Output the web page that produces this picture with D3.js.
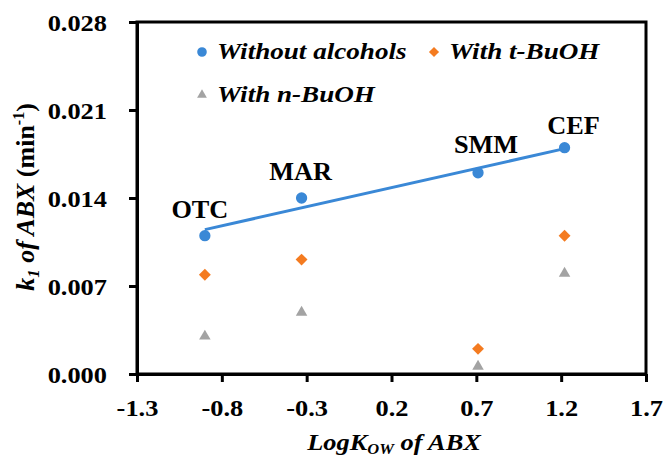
<!DOCTYPE html>
<html><head><meta charset="utf-8"><script src="https://cdn.jsdelivr.net/npm/d3@7"></script></head>
<body style="margin:0">
<svg id="chart" width="667" height="457"></svg>
<script>
// Antibiotics and their log Kow
const drugs = ["OTC", "MAR", "SMM", "CEF"];
const logKow = [-0.9, -0.33, 0.71, 1.22];

// Pseudo-first-order rate constants k1 (min^-1)
const kWithout = [0.0110, 0.0140, 0.0160, 0.0180];
const kTBuOH   = [0.0079, 0.0091, 0.0020, 0.0110];
const kNBuOH   = [0.0030, 0.0049, 0.0006, 0.0080];

// Axis ticks
const xTicks = [-1.3, -0.8, -0.3, 0.2, 0.7, 1.2, 1.7];
const yTicks = [0.000, 0.007, 0.014, 0.021, 0.028];

const colors = { without: "#3a88d6", tbuoh: "#f47b20", nbuoh: "#a3a3a3" };
const SX = 1.1; // slightly wide lettering

function serif(sel, size, italic) {
  return sel.attr("font-family", "Liberation Serif")
    .style("font-family", '"Liberation Serif"').style("font-weight", "bold")
    .style("font-size", size + "px").style("font-style", italic ? "italic" : "normal");
}

const s = d3.select("#chart");
const m = { left: 137, right: 646, top: 22, bottom: 374 };

const x = d3.scaleLinear().domain([-1.3, 1.7]).range([m.left, m.right]);
const y = d3.scaleLinear().domain([0, 0.028]).range([m.bottom, m.top]);

// Frame
s.append("rect")
  .attr("x", m.left).attr("y", m.top)
  .attr("width", m.right - m.left).attr("height", m.bottom - m.top)
  .attr("fill", "none").attr("stroke", "#000").attr("stroke-width", 3);

// Axes
const xAxis = s.append("g").attr("transform", `translate(0,${m.bottom})`)
  .call(d3.axisBottom(x).tickValues(xTicks).tickFormat(d => d3.format(".1f")(d).replace("−", "-"))
    .tickSize(8).tickSizeOuter(0));
const yAxis = s.append("g").attr("transform", `translate(${m.left},0)`)
  .call(d3.axisLeft(y).tickValues(yTicks).tickFormat(d3.format(".3f")).tickSize(8).tickSizeOuter(0));

[xAxis, yAxis].forEach(g => {
  g.attr("font-family", null).attr("font-size", null);
  g.select(".domain").attr("stroke", "#000").attr("stroke-width", 3);
  g.selectAll(".tick line").attr("stroke", "#000").attr("stroke-width", 3);
  serif(g.selectAll(".tick text"), 24, false).attr("fill", "#000");
});
xAxis.selectAll(".tick text").attr("y", 42).attr("dy", 0)
  .attr("transform", `scale(${SX},1)`);
yAxis.selectAll(".tick text").attr("x", -30 / SX).attr("dy", "0.34em")
  .attr("transform", `scale(${SX},1)`);

// Linear trend line for the "without alcohols" series
const mx = d3.mean(logKow), my = d3.mean(kWithout);
const sxy = d3.sum(logKow, (v, i) => (v - mx) * (kWithout[i] - my));
const sxx = d3.sum(logKow, v => (v - mx) ** 2);
const slope = sxy / sxx, icpt = my - slope * mx;
const xr = d3.extent(logKow);
s.append("line")
  .attr("x1", x(xr[0])).attr("y1", y(icpt + slope * xr[0]))
  .attr("x2", x(xr[1])).attr("y2", y(icpt + slope * xr[1]))
  .attr("stroke", colors.without).attr("stroke-width", 3);

// Markers
const sym = {
  circle: d3.symbol().type(d3.symbolCircle).size(100),
  diamond: d3.symbol().type(d3.symbolDiamond2).size(90),
  triangle: d3.symbol().type(d3.symbolTriangle2).size(95)
};
function series(vals, shape, color) {
  s.append("g").selectAll("path").data(vals).join("path")
    .attr("d", sym[shape])
    .attr("transform", (d, i) => `translate(${x(logKow[i])},${y(d)})`)
    .attr("fill", color);
}
series(kWithout, "circle", colors.without);
series(kTBuOH, "diamond", colors.tbuoh);
series(kNBuOH, "triangle", colors.nbuoh);

// Drug name labels above the blue points
const labelOffsets = [[-5, -18], [-1, -18], [8, -20], [9, -14]];
serif(s.append("g").selectAll("text").data(drugs).join("text"), 25, false)
  .attr("transform", (d, i) =>
    `translate(${x(logKow[i]) + labelOffsets[i][0]},${y(kWithout[i]) + labelOffsets[i][1]}) scale(1.05,1)`)
  .attr("text-anchor", "middle").attr("fill", "#000")
  .text(d => d);

// Legend
const legend = [
  { label: "Without alcohols", shape: "circle", color: colors.without, x: 202, y: 52 },
  { label: "With t-BuOH", shape: "diamond", color: colors.tbuoh, x: 434, y: 52 },
  { label: "With n-BuOH", shape: "triangle", color: colors.nbuoh, x: 202, y: 95 }
];
const lg = s.append("g").selectAll("g").data(legend).join("g")
  .attr("transform", d => `translate(${d.x},${d.y})`);
lg.append("path").attr("d", d => sym[d.shape]()).attr("fill", d => d.color)
  .attr("transform", "scale(0.85)");
serif(lg.append("text"), 24, true).attr("fill", "#000")
  .attr("transform", "translate(15,7) scale(1.13,1)").text(d => d.label);

// Axis titles
const xt = serif(s.append("text"), 24, true).attr("fill", "#000")
  .attr("transform", `translate(394,450) scale(${SX},1)`)
  .attr("text-anchor", "middle");
xt.append("tspan").text("LogK");
xt.append("tspan").style("font-size", "15px").attr("dy", 4).text("OW");
xt.append("tspan").attr("dy", -4).text(" of ABX");

const yt = serif(s.append("text"), 26, true).attr("fill", "#000")
  .attr("transform", `translate(34,197) rotate(-90)`)
  .attr("text-anchor", "middle");
yt.append("tspan").text("k");
yt.append("tspan").style("font-size", "17px").attr("dy", 5).text("1");
yt.append("tspan").attr("dy", -5).text(" of ABX");
yt.append("tspan").style("font-style", "normal").text(" (min");
yt.append("tspan").style("font-style", "normal").style("font-size", "16px").attr("dy", -10).text("-1");
yt.append("tspan").style("font-style", "normal").attr("dy", 10).text(")");
</script>
</body>
</html>
